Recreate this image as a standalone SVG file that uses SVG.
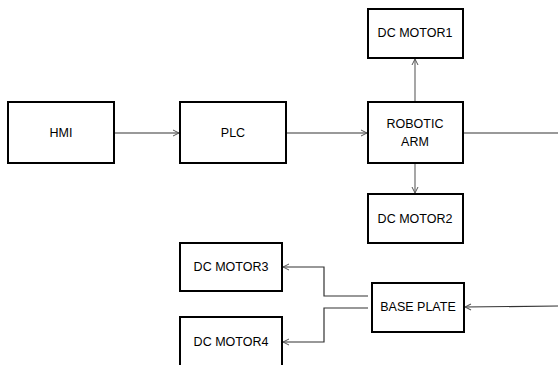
<svg xmlns="http://www.w3.org/2000/svg" width="558" height="365" viewBox="0 0 558 365">
<defs>
<marker id="ah" markerWidth="8" markerHeight="8" refX="7" refY="4" orient="auto" markerUnits="userSpaceOnUse">
<path d="M1,1 L7,4 L1,7" fill="none" stroke="#555" stroke-width="1"/>
</marker>
<style>
.box{fill:#fff;stroke:#000;stroke-width:2}
.lbl{font-family:"Liberation Sans",Arial,sans-serif;font-size:12.5px;fill:#000;text-anchor:middle;dominant-baseline:central}
.c{fill:none;stroke:#777;stroke-width:1.3}
.d{fill:none;stroke:#333;stroke-width:1.2}
</style>
</defs>
<rect width="558" height="365" fill="#fff"/>
<g id="connectors">
<line class="c" x1="114" y1="133" x2="179" y2="133" marker-end="url(#ah)"/>
<line class="c" x1="286" y1="133" x2="367" y2="133" marker-end="url(#ah)"/>
<line class="c" x1="463" y1="133" x2="558" y2="133"/>
<line class="c" x1="415" y1="102" x2="415" y2="59" marker-end="url(#ah)"/>
<line class="c" x1="415" y1="163" x2="415" y2="193" marker-end="url(#ah)"/>
<polyline class="d" points="368,296 324,296 324,267 283,267" marker-end="url(#ah)"/>
<polyline class="d" points="368,308 324,308 324,342 283,342" marker-end="url(#ah)"/>
<line class="d" x1="558" y1="306" x2="465" y2="307" marker-end="url(#ah)"/>
</g>
<g id="hmi"><rect class="box" x="8" y="102" width="106" height="61"/><text class="lbl" x="61" y="133">HMI</text></g>
<g id="plc"><rect class="box" x="180" y="102" width="106" height="61"/><text class="lbl" x="233" y="133">PLC</text></g>
<g id="robotic-arm"><rect class="box" x="368" y="102" width="95" height="61"/><text class="lbl" x="415" y="124">ROBOTIC</text><text class="lbl" x="415" y="142">ARM</text></g>
<g id="dc-motor1"><rect class="box" x="368" y="9" width="95" height="49"/><text class="lbl" x="415" y="33">DC MOTOR1</text></g>
<g id="dc-motor2"><rect class="box" x="368" y="194" width="95" height="49"/><text class="lbl" x="415" y="219">DC MOTOR2</text></g>
<g id="dc-motor3"><rect class="box" x="180" y="243" width="102" height="48"/><text class="lbl" x="231" y="267">DC MOTOR3</text></g>
<g id="dc-motor4"><rect class="box" x="180" y="317" width="102" height="60"/><text class="lbl" x="231" y="342">DC MOTOR4</text></g>
<g id="base-plate"><rect class="box" x="372" y="283" width="92" height="49"/><text class="lbl" x="418" y="307">BASE PLATE</text></g>
</svg>
